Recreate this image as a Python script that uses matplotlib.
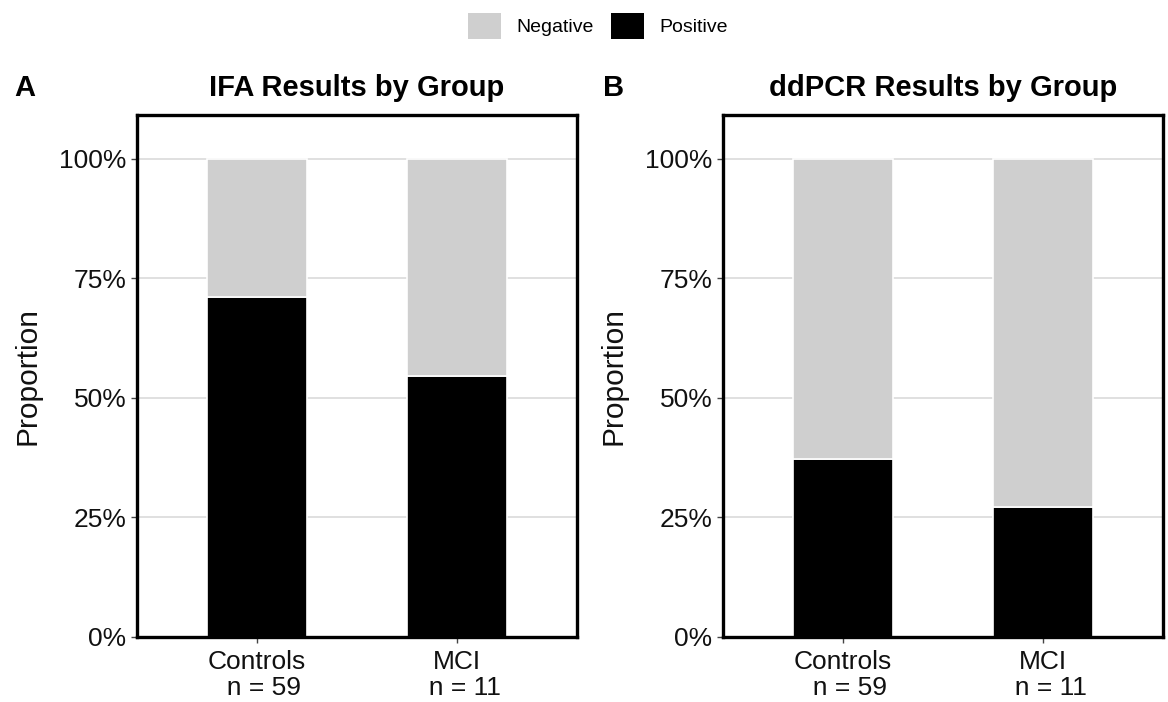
import matplotlib
matplotlib.use("Agg")
import matplotlib.pyplot as plt
from matplotlib.patches import Patch

plt.rcParams["font.family"] = ["Liberation Sans", "DejaVu Sans"]

# data (share of samples per group)
groups = ["Controls", "MCI"]
group_n = ["n = 59", "n = 11"]
ifa_positive = [0.712, 0.545]
ifa_negative = [0.288, 0.455]
ddpcr_positive = [0.373, 0.273]
ddpcr_negative = [0.627, 0.727]
y_ticks = [0, 0.25, 0.5, 0.75, 1.0]
y_tick_labels = ["0%", "25%", "50%", "75%", "100%"]

neg_color = "#cfcfcf"
pos_color = "#000000"

W, H = 1168, 702
fig = plt.figure(figsize=(W / 100, H / 100), dpi=100)


def draw_panel(left_px, pos, neg, title, letter, letter_x_px):
    ax = fig.add_axes([left_px / W, 1 - 637 / H, 440 / W, 522 / H])
    x = [1, 2]
    ax.bar(x, pos, width=0.5, color=pos_color, edgecolor="white", linewidth=1.2, zorder=2)
    ax.bar(x, neg, width=0.5, bottom=pos, color=neg_color, edgecolor="white",
           linewidth=1.2, zorder=2)
    ax.set_xlim(0.4, 2.6)
    ax.set_ylim(0, 1.092)
    ax.set_yticks(y_ticks)
    ax.set_yticklabels(y_tick_labels)
    ax.set_xticks(x)
    ax.set_xticklabels([f"{g}\n  {n}" for g, n in zip(groups, group_n)], linespacing=1.1)
    ax.yaxis.grid(True, color="#dadada", linewidth=1.2, zorder=0)
    ax.set_axisbelow(True)
    for s in ax.spines.values():
        s.set_linewidth(2.4)
        s.set_color("black")
    ax.tick_params(axis="both", labelsize=19, length=4.5, width=1.0, color="#444444",
                   labelcolor="#111111", pad=3)
    ax.tick_params(axis="x", pad=5)
    ax.set_ylabel("Proportion", fontsize=21.5, color="#111111")
    ax.yaxis.set_label_coords(-0.216, 0.5)
    cx = (left_px + 220) / W
    fig.text(cx, 1 - 88 / H, title, ha="center", va="center", fontsize=21,
             fontweight="bold")
    fig.text(letter_x_px / W, 1 - 88 / H, letter, ha="left", va="center", fontsize=21,
             fontweight="bold")
    return ax


draw_panel(137, ifa_positive, ifa_negative, "IFA Results by Group", "A", 14)
draw_panel(723, ddpcr_positive, ddpcr_negative, "ddPCR Results by Group", "B", 603)

handles = [Patch(facecolor=neg_color, edgecolor="none", label="Negative"),
           Patch(facecolor=pos_color, edgecolor="none", label="Positive")]
fig.legend(handles=handles, loc="center", bbox_to_anchor=(598 / W, 1 - 26 / H),
           ncol=2, frameon=False, fontsize=14, handlelength=1.7, handleheight=1.7,
           handletextpad=0.8, columnspacing=0.9)

fig.savefig("out.png", dpi=100)
